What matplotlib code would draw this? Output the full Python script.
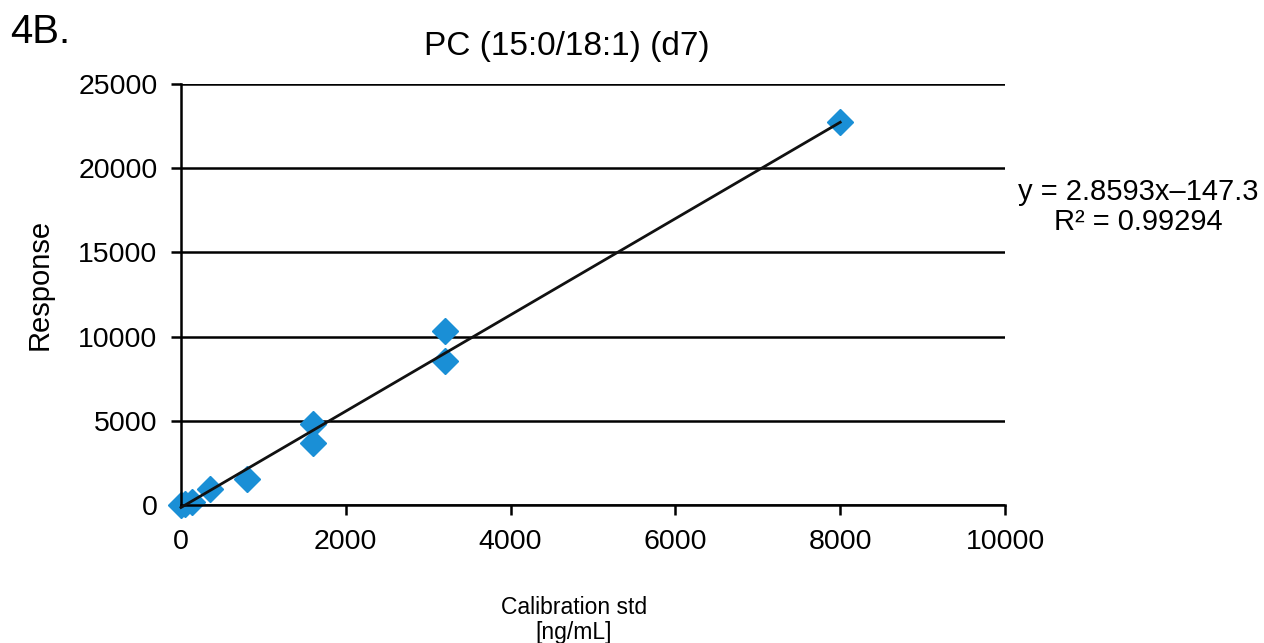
import numpy as np
import matplotlib.pyplot as plt

plt.rcParams['font.family'] = ['Liberation Sans', 'DejaVu Sans']

# calibration data
conc = [0, 50, 130, 350, 800, 1600, 1600, 3200, 3200, 8000]
resp = [0, 80, 150, 950, 1550, 4800, 3700, 10350, 8550, 22750]
slope = 2.8593
intercept = -147.3
r2 = 0.99294

fig = plt.figure(figsize=(12.64, 6.43), dpi=100)
ax = fig.add_axes([181/1264, 1-505/643, 824/1264, 421/643])

ax.set_xlim(0, 10000)
ax.set_ylim(0, 25000)
ax.set_xticks(np.arange(0, 10001, 2000))
ax.set_yticks(np.arange(0, 25001, 5000))
ax.yaxis.grid(True, color='black', lw=1.8)
ax.set_axisbelow(True)
for s in ['top', 'right']:
    ax.spines[s].set_visible(False)
for s in ['left', 'bottom']:
    ax.spines[s].set_linewidth(1.8)
ax.tick_params(direction='out', length=7, width=1.8, labelsize=20.5, pad=10)

x = np.array([0, 8000])
ax.plot(x, slope*x + intercept, color='#111111', lw=2, zorder=3, clip_on=False)
ax.plot(conc, resp, 'D', color='#1a8fd6', ms=13.5, mec='#1a8fd6', zorder=2, clip_on=False)

fig.text(567/1264, 1-47/643, 'PC (15:0/18:1) (d7)', ha='center', va='center', fontsize=24)
fig.text(10/1264, 1-32/643, '4B.', ha='left', va='center', fontsize=29)
fig.text(40/1264, 1-284/643, 'Response', ha='center', va='center', rotation=90, fontsize=21)
fig.text(574/1264, 1-620/643, 'Calibration std\n[ng/mL]', ha='center', va='center',
         fontsize=16.5, linespacing=1.15)
fig.text(1138/1264, 1-207/643, 'y = %.4fx\u2013%.1f\nR\u00b2 = %.5f' % (slope, -intercept, r2),
         ha='center', va='center', fontsize=21, linespacing=1.1)

fig.savefig('out.png', dpi=100)
